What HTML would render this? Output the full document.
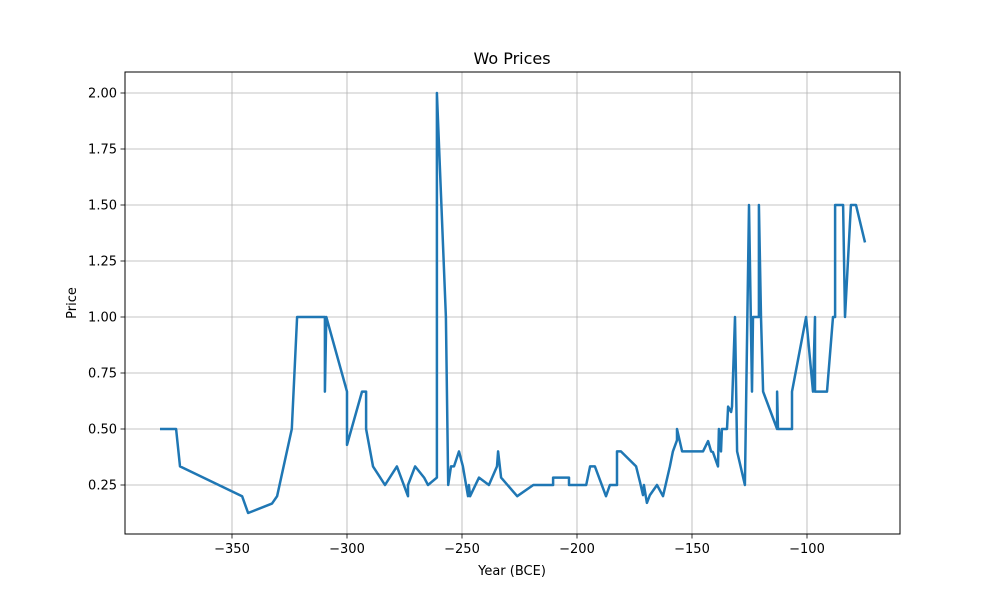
<!DOCTYPE html>
<html><head><meta charset="utf-8"><style>
body{margin:0;background:#fff;}
svg{display:block;font-family:"DejaVu Sans","Liberation Sans",sans-serif;}
</style></head><body>
<svg id="chart" width="1000" height="600">
<rect width="1000" height="600" fill="#fff"/>
<g id="grid"></g>
<g id="ticks"></g>
<path id="line" fill="none" stroke="#1f77b4" stroke-width="2.5" stroke-linejoin="round"/>
<rect x="125" y="72" width="775" height="462" fill="none" stroke="#000" stroke-width="1"/>
<text x="512" y="64" text-anchor="middle" font-size="16">Wo Prices</text>
<text x="512" y="575" text-anchor="middle" font-size="13">Year (BCE)</text>
<text transform="translate(76,303) rotate(-90)" text-anchor="middle" font-size="13">Price</text>
</svg>
<script>
const years=[-381.3,-374.3,-372.6,-345.6,-343,-332.6,-330.4,-324,-321.7,-309.6,-309.6,-309,-300,-300,-293.5,-291.7,-291.7,-288.7,-283.5,-278.3,-273.5,-273.5,-270.4,-266.5,-264.8,-260.9,-260.9,-257,-256,-254.8,-253.5,-251.3,-249.6,-247.4,-247,-246.5,-242.6,-238.3,-234.8,-234.3,-233,-226,-219,-210.4,-210.4,-203.5,-203.5,-196,-194.3,-192.2,-187.4,-185.7,-182.6,-182.6,-180.9,-174.3,-172.6,-171.3,-170.9,-169.6,-168.3,-165.2,-162.6,-159.6,-158.3,-156.5,-156.5,-154.3,-145.2,-143,-141.7,-140.9,-138.7,-138.3,-137.4,-137,-134.8,-134.3,-133,-132.6,-131.3,-130.4,-127,-125.2,-123.9,-123.5,-120.9,-120.9,-120,-119.1,-113,-113,-112.6,-106.5,-106.5,-100.4,-97.4,-96.5,-96.5,-91.3,-88.7,-87.8,-87.8,-84.3,-83.5,-80.9,-78.7,-74.8];
const prices=[0.5,0.5,0.333,0.2,0.125,0.167,0.2,0.5,1.0,1.0,0.667,1.0,0.667,0.429,0.667,0.667,0.5,0.333,0.25,0.333,0.2,0.25,0.333,0.283,0.25,0.283,2.0,1.0,0.25,0.333,0.333,0.4,0.333,0.2,0.25,0.2,0.283,0.25,0.333,0.4,0.283,0.2,0.25,0.25,0.283,0.283,0.25,0.25,0.333,0.333,0.2,0.25,0.25,0.4,0.4,0.333,0.263,0.205,0.25,0.17,0.205,0.25,0.2,0.333,0.4,0.45,0.5,0.4,0.4,0.446,0.4,0.397,0.333,0.5,0.4,0.5,0.5,0.6,0.576,0.6,1.0,0.4,0.25,1.5,0.667,1.0,1.0,1.5,1.0,0.667,0.5,0.667,0.5,0.5,0.667,1.0,0.667,1.0,0.667,0.667,1.0,1.0,1.5,1.5,1.0,1.5,1.5,1.333];
const xTicks=[-350,-300,-250,-200,-150,-100];
const yTicks=[0.25,0.5,0.75,1.0,1.25,1.5,1.75,2.0];
const yLabels=["0.25","0.50","0.75","1.00","1.25","1.50","1.75","2.00"];
const X=v=>1037+v*2.3, Y=v=>93+(2-v)*224;
const ns="http://www.w3.org/2000/svg";
const grid=document.getElementById('grid'), ticks=document.getElementById('ticks');
function mk(tag,attrs,parent,txt){const e=document.createElementNS(ns,tag);for(const k in attrs)e.setAttribute(k,attrs[k]);if(txt!==undefined)e.textContent=txt;parent.appendChild(e);return e;}
xTicks.forEach(t=>{const x=X(t);
 const g=mk('line',{x1:x,x2:x,y1:72,y2:534,stroke:'#b0b0b0','stroke-width':0.8},grid);
 
 
 mk('line',{x1:x,x2:x,y1:534,y2:538.5,stroke:'#000','stroke-width':0.8},ticks);
 const l=mk('text',{x:x,y:553,'text-anchor':'middle','font-size':13},ticks,'\u2212'+Math.abs(t));
 
 });
yTicks.forEach((t,i)=>{const y=Y(t);
 const g=mk('line',{x1:125,x2:900,y1:y,y2:y,stroke:'#b0b0b0','stroke-width':0.8},grid);
 
 
 mk('line',{x1:120.5,x2:125,y1:y,y2:y,stroke:'#000','stroke-width':0.8},ticks);
 const l=mk('text',{x:117,y:y+4.5,'text-anchor':'end','font-size':13},ticks,yLabels[i]);
 
 });
document.getElementById('line').setAttribute('d',years.map((v,i)=>(i?'L':'M')+X(v).toFixed(1)+','+Y(prices[i]).toFixed(1)).join(''));
</script>
</body></html>
